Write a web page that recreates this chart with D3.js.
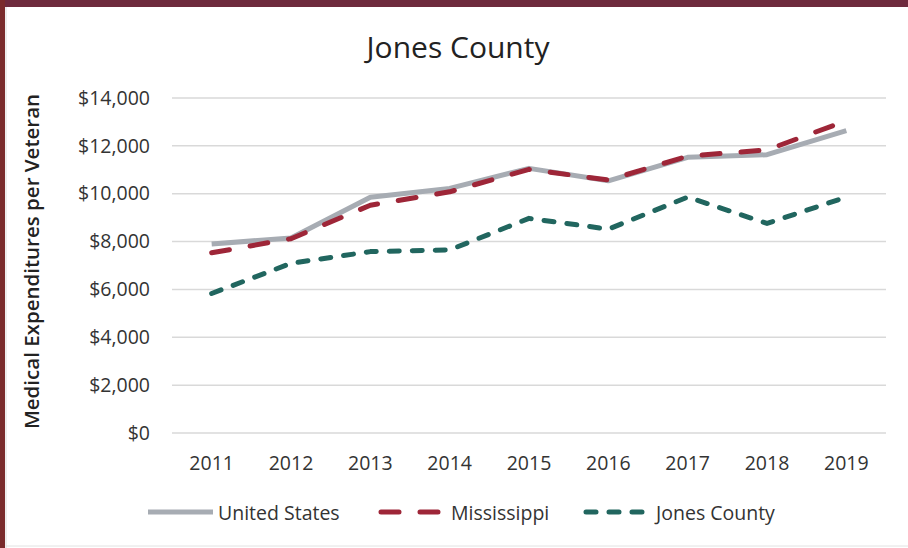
<!DOCTYPE html>
<html>
<head>
<meta charset="utf-8">
<script src="https://cdn.jsdelivr.net/npm/d3@7"></script>
<style>
  html, body { margin: 0; padding: 0; background: #fff; }
  svg { display: block; }
</style>
</head>
<body>
<svg id="chart"></svg>
<script>
const years = ['2011', '2012', '2013', '2014', '2015', '2016', '2017', '2018', '2019'];
const unitedStates = [7900, 8150, 9850, 10220, 11060, 10540, 11520, 11630, 12640];
const mississippi = [7530, 8120, 9520, 10080, 11020, 10570, 11570, 11830, 13050];
const jonesCounty = [5830, 7090, 7580, 7650, 8970, 8520, 9860, 8760, 9860];
const yTicks = [0, 2000, 4000, 6000, 8000, 10000, 12000, 14000];

const series = [
  { name: 'United States', values: unitedStates, color: '#a7acb3', dash: null },
  { name: 'Mississippi', values: mississippi, color: '#9e2638', dash: '18,21' },
  { name: 'Jones County', values: jonesCounty, color: '#21665f', dash: '10,13' }
];

const W = 908, H = 548;
const margin = { top: 98, right: 22, bottom: 115, left: 172 };
const font = '"Open Sans", Lato, sans-serif';

const svg = d3.select('#chart').attr('width', W).attr('height', H);

// frame
svg.append('rect').attr('x', 0).attr('y', 0).attr('width', W).attr('height', 7).attr('fill', '#6e2a3d');
svg.append('rect').attr('x', 0).attr('y', 0).attr('width', 5).attr('height', H).attr('fill', '#7a2b2c');
svg.append('line').attr('x1', 6).attr('x2', 6).attr('y1', 7).attr('y2', H).attr('stroke', '#dcdcdc');
svg.append('line').attr('x1', 6).attr('x2', W).attr('y1', 546).attr('y2', 546).attr('stroke', '#e2e2e2');

const x = d3.scaleBand()
  .domain(years)
  .range([margin.left, W - margin.right]);

const y = d3.scaleLinear()
  .domain([0, 14000])
  .range([H - margin.bottom, margin.top]);

// gridlines
svg.append('g')
  .selectAll('line')
  .data(yTicks)
  .enter()
  .append('line')
  .attr('x1', margin.left)
  .attr('x2', W - margin.right)
  .attr('y1', d => y(d))
  .attr('y2', d => y(d))
  .attr('stroke', '#d9d9d9')
  .attr('stroke-width', 1.5);

// y axis
const yAxis = d3.axisLeft(y)
  .tickValues(yTicks)
  .tickSize(0)
  .tickPadding(22)
  .tickFormat(d => '$' + d3.format(',')(d));

svg.append('g')
  .attr('transform', `translate(${margin.left},0)`)
  .call(yAxis)
  .call(g => g.select('.domain').remove())
  .selectAll('text')
  .style('font-family', font)
  .style('font-size', '19.5px')
  .style('fill', '#333');

// x axis
const xAxis = d3.axisBottom(x).tickSize(0).tickPadding(23);

svg.append('g')
  .attr('transform', `translate(0,${y(0)})`)
  .call(xAxis)
  .call(g => g.select('.domain').remove())
  .selectAll('text')
  .style('font-family', font)
  .style('font-size', '19.5px')
  .style('fill', '#333');

// title
svg.append('text')
  .attr('x', 458)
  .attr('y', 58)
  .attr('text-anchor', 'middle')
  .style('font-family', font)
  .style('font-size', '30px')
  .style('fill', '#222')
  .text('Jones County');

// y title
svg.append('text')
  .attr('transform', `translate(39,${(margin.top + y(0)) / 2 - 4}) rotate(-90)`)
  .attr('text-anchor', 'middle')
  .style('font-family', font)
  .style('font-size', '20.5px')
  .style('font-weight', '600')
  .style('fill', '#222')
  .text('Medical Expenditures per Veteran');

// lines
const line = d3.line()
  .x((d, i) => x(years[i]) + x.bandwidth() / 2)
  .y(d => y(d));

series.forEach(s => {
  svg.append('path')
    .datum(s.values)
    .attr('d', line)
    .attr('fill', 'none')
    .attr('stroke', s.color)
    .attr('stroke-width', 5)
    .attr('stroke-linejoin', 'round')
    .attr('stroke-linecap', s.dash ? 'round' : 'butt')
    .attr('stroke-dasharray', s.dash);
});

// legend
const legendX = [145, 378, 583];
const legend = svg.append('g');
series.forEach((s, i) => {
  legend.append('line')
    .attr('x1', legendX[i] + 3)
    .attr('x2', legendX[i] + 68)
    .attr('y1', 512)
    .attr('y2', 512)
    .attr('stroke', s.color)
    .attr('stroke-width', 5)
    .attr('stroke-linecap', s.dash ? 'round' : 'butt')
    .attr('stroke-dasharray', s.dash);
  legend.append('text')
    .attr('x', legendX[i] + 73)
    .attr('y', 520)
    .style('font-family', font)
    .style('font-size', '19.5px')
    .style('fill', '#333')
    .text(s.name);
});
</script>
</body>
</html>
